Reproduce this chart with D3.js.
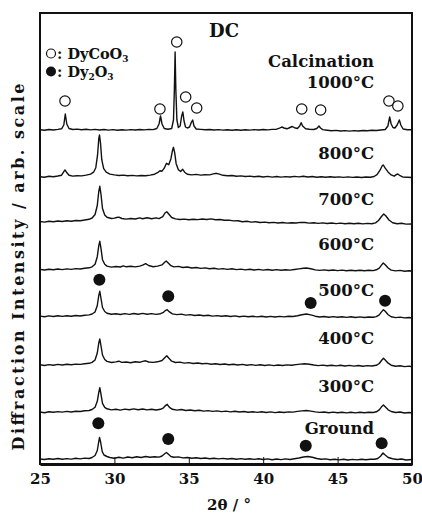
<!DOCTYPE html>
<html>
<head>
<meta charset="utf-8">
<script src="https://cdn.jsdelivr.net/npm/d3@7"></script>
<style>
  html, body { margin: 0; padding: 0; background: #fff; }
  svg { display: block; }
  text { font-family: "DejaVu Serif", "Liberation Serif", serif; font-weight: bold; fill: #111; }
</style>
</head>
<body>
<svg id="chart" width="422" height="514"></svg>
<script>
// ---------------- DATA ----------------
const xTicks = [25, 30, 35, 40, 45, 50];
const traceNames = ["Ground", "300\u00B0C", "400\u00B0C", "500\u00B0C", "600\u00B0C", "700\u00B0C", "800\u00B0C", "1000\u00B0C"];
// vertical offsets of each pattern (arb. units)
const traceOffsets = [4.5, 51.7, 99, 147.5, 194.3, 242.5, 287.3, 334];

const patGround = [[25.0,0.5],[25.3,0.0],[25.6,0.8],[25.9,0.2],[26.2,1.0],[26.5,0.3],[26.8,0.9],[27.1,0.4],[27.4,1.2],[27.7,0.6],[28.0,1.4],[28.3,1.0],[28.5,2.0],[28.7,4],[28.85,9],[28.95,18],[29.0,22],[29.08,17],[29.18,8],[29.3,4.5],[29.5,3],[29.7,2],[30.0,1.2],[30.3,2.2],[30.6,1.4],[30.9,2.5],[31.2,1.8],[31.5,2.8],[31.8,2.0],[32.1,3.0],[32.4,2.2],[32.7,2.8],[33.0,2.4],[33.2,3.5],[33.4,6],[33.5,7],[33.65,5],[33.8,3],[34.0,2.2],[34.3,2.6],[34.6,1.6],[34.9,2.0],[35.2,1.2],[35.5,1.8],[35.8,1.0],[36.1,1.5],[36.4,0.8],[36.7,1.3],[37.0,0.6],[37.3,1.1],[37.6,0.5],[37.9,1.0],[38.2,0.3],[38.5,0.9],[38.8,0.2],[39.1,0.8],[39.4,0.1],[39.7,0.7],[40.0,0.0],[40.3,0.6],[40.6,-0.2],[40.9,0.5],[41.2,-0.1],[41.5,0.6],[41.8,0.0],[42.1,0.8],[42.4,1.5],[42.7,2.5],[43.0,3.0],[43.3,2.2],[43.6,1.0],[43.9,0.2],[44.2,0.6],[44.5,-0.3],[44.8,0.3],[45.1,-0.4],[45.4,0.2],[45.7,-0.5],[46.0,0.1],[46.3,-0.4],[46.6,0.2],[46.9,-0.3],[47.2,0.3],[47.5,0.2],[47.7,1.0],[47.9,3.5],[48.05,6.5],[48.2,4.5],[48.4,2.0],[48.7,0.8],[49.0,0.0],[49.3,0.5],[49.6,-0.5],[50.0,0.0]];

const pat300 = [[25.0,0.3],[25.3,-0.4],[25.6,0.5],[25.9,0.0],[26.2,0.7],[26.5,0.2],[26.8,0.9],[27.1,0.3],[27.4,1.0],[27.7,0.8],[28.0,1.5],[28.3,1.8],[28.5,2.8],[28.7,5],[28.85,11],[28.95,20],[29.02,24.7],[29.1,18],[29.2,9],[29.35,5],[29.5,3.5],[29.8,2.4],[30.1,3.0],[30.4,2.2],[30.7,3.2],[31.0,2.5],[31.3,3.4],[31.6,2.6],[31.9,3.3],[32.2,2.4],[32.5,3.1],[32.8,2.3],[33.1,3.0],[33.3,4.5],[33.45,7],[33.55,8],[33.7,5],[33.9,3],[34.2,2.2],[34.5,2.8],[34.8,1.8],[35.1,2.3],[35.4,1.5],[35.7,2.0],[36.0,1.2],[36.3,1.7],[36.6,0.9],[36.9,1.4],[37.2,0.7],[37.5,1.2],[37.8,0.4],[38.1,1.0],[38.4,0.3],[38.7,0.8],[39.0,0.1],[39.3,0.6],[39.6,-0.1],[39.9,0.5],[40.2,-0.2],[40.5,0.4],[40.8,-0.3],[41.1,0.3],[41.4,-0.2],[41.7,0.4],[42.0,0.2],[42.3,0.9],[42.6,1.4],[42.9,1.8],[43.2,1.2],[43.5,0.4],[43.8,-0.1],[44.1,0.3],[44.4,-0.4],[44.7,0.2],[45.0,-0.5],[45.3,0.1],[45.6,-0.6],[45.9,0.0],[46.2,-0.6],[46.5,0.0],[46.8,-0.5],[47.1,0.1],[47.4,-0.2],[47.6,0.5],[47.8,2.5],[47.95,5.5],[48.08,7.3],[48.2,5.5],[48.4,2.5],[48.6,0.8],[48.9,-0.2],[49.2,0.3],[49.5,-0.7],[49.8,-0.2],[50.0,-0.7]];

const pat400 = [[25.0,0.2],[25.3,-0.5],[25.6,0.4],[25.9,-0.2],[26.2,0.6],[26.5,0.0],[26.8,0.7],[27.1,0.2],[27.4,0.9],[27.7,0.6],[28.0,1.3],[28.3,1.7],[28.5,2.6],[28.7,5],[28.85,12],[28.95,22],[29.02,26],[29.1,19],[29.2,10],[29.35,5.5],[29.5,3.6],[29.8,2.5],[30.1,3.1],[30.3,3.8],[30.5,2.6],[30.8,3.0],[31.1,2.3],[31.4,3.2],[31.7,2.7],[31.9,3.6],[32.1,4.2],[32.3,3.0],[32.6,2.6],[32.9,3.2],[33.2,4.5],[33.4,7.5],[33.52,9.3],[33.65,7],[33.85,3.8],[34.1,2.5],[34.4,2.9],[34.7,1.9],[35.0,2.4],[35.3,1.5],[35.6,2.0],[35.9,1.2],[36.2,1.6],[36.5,0.8],[36.8,1.3],[37.1,0.5],[37.4,1.0],[37.7,0.3],[38.0,0.8],[38.3,0.0],[38.6,0.6],[38.9,-0.2],[39.2,0.4],[39.5,-0.4],[39.8,0.2],[40.1,-0.5],[40.4,0.1],[40.7,-0.6],[41.0,0.0],[41.3,-0.5],[41.6,0.1],[41.9,-0.3],[42.2,0.4],[42.5,0.9],[42.8,1.3],[43.1,0.8],[43.4,0.0],[43.7,-0.6],[44.0,-0.1],[44.3,-0.8],[44.6,-0.2],[44.9,-0.9],[45.2,-0.3],[45.5,-1.0],[45.8,-0.4],[46.1,-1.1],[46.4,-0.5],[46.7,-1.2],[47.0,-0.6],[47.3,-1.0],[47.6,-0.3],[47.8,1.5],[47.95,4.5],[48.08,6.7],[48.2,5.0],[48.4,1.8],[48.6,-0.2],[48.9,-1.2],[49.2,-0.8],[49.5,-1.6],[49.8,-1.1],[50.0,-1.7]];

const pat500 = [[25.0,0.4],[25.3,-0.2],[25.6,0.6],[25.9,0.0],[26.2,0.8],[26.5,0.1],[26.8,0.7],[27.1,0.2],[27.4,1.0],[27.7,0.5],[28.0,1.2],[28.3,1.6],[28.5,2.5],[28.7,4.5],[28.85,11],[28.95,21],[29.02,25.2],[29.1,18],[29.2,9],[29.35,5],[29.5,3.3],[29.8,2.2],[30.1,2.8],[30.4,2.0],[30.7,2.9],[31.0,2.1],[31.3,3.0],[31.6,2.3],[31.9,3.1],[32.2,2.2],[32.5,2.9],[32.8,2.1],[33.1,2.8],[33.3,4.2],[33.45,6.2],[33.55,6.8],[33.7,4.6],[33.9,2.6],[34.2,1.9],[34.5,2.4],[34.8,1.4],[35.1,1.9],[35.4,1.0],[35.7,1.5],[36.0,0.7],[36.3,1.2],[36.6,0.4],[36.9,0.9],[37.2,0.2],[37.5,0.8],[37.8,0.0],[38.1,0.6],[38.4,-0.2],[38.7,0.4],[39.0,-0.3],[39.3,0.3],[39.6,-0.4],[39.9,0.2],[40.2,-0.5],[40.5,0.1],[40.8,-0.5],[41.1,0.1],[41.4,-0.4],[41.7,0.2],[42.0,0.0],[42.3,0.8],[42.6,1.8],[42.9,2.5],[43.2,1.6],[43.5,0.3],[43.8,-0.5],[44.1,0.0],[44.4,-0.7],[44.7,-0.1],[45.0,-0.8],[45.3,-0.2],[45.6,-0.9],[45.9,-0.3],[46.2,-1.0],[46.5,-0.4],[46.8,-1.0],[47.1,-0.5],[47.4,-0.8],[47.6,-0.1],[47.8,1.6],[47.95,4.6],[48.08,6.8],[48.2,5.2],[48.4,1.8],[48.6,-0.3],[48.9,-1.1],[49.2,-0.6],[49.5,-1.4],[49.8,-1.0],[50.0,-1.5]];

const pat600 = [[25.0,0.3],[25.3,-0.3],[25.6,0.5],[25.9,-0.1],[26.2,0.7],[26.5,0.1],[26.8,0.8],[27.1,0.3],[27.4,1.1],[27.7,0.7],[28.0,1.4],[28.3,1.9],[28.5,2.9],[28.7,5.5],[28.85,13],[28.95,24],[29.02,28.4],[29.1,21],[29.2,10],[29.35,5.5],[29.5,3.6],[29.8,2.6],[30.1,3.2],[30.4,2.7],[30.6,3.8],[30.8,2.9],[31.1,3.5],[31.4,2.8],[31.7,3.6],[31.9,4.5],[32.1,6.0],[32.3,4.2],[32.6,3.0],[32.9,3.6],[33.2,4.8],[33.38,7.5],[33.48,8.7],[33.6,7],[33.8,4],[34.0,2.8],[34.3,3.3],[34.6,2.2],[34.9,2.7],[35.2,1.7],[35.5,2.2],[35.8,1.3],[36.1,1.8],[36.4,0.9],[36.7,1.4],[37.0,0.6],[37.3,1.1],[37.6,0.3],[37.9,0.9],[38.2,0.1],[38.5,0.6],[38.8,-0.2],[39.1,0.4],[39.4,-0.3],[39.7,0.3],[40.0,-0.4],[40.3,0.2],[40.6,-0.5],[40.9,0.1],[41.2,-0.5],[41.5,0.0],[41.8,-0.4],[42.1,0.2],[42.4,0.8],[42.7,1.5],[42.9,1.7],[43.2,0.9],[43.5,-0.2],[43.8,-0.7],[44.1,-0.2],[44.4,-0.8],[44.7,-0.3],[45.0,-0.9],[45.3,-0.4],[45.6,-1.0],[45.9,-0.5],[46.2,-1.1],[46.5,-0.5],[46.8,-1.1],[47.1,-0.6],[47.4,-0.9],[47.6,-0.1],[47.8,1.6],[47.95,4.6],[48.07,6.7],[48.2,5.0],[48.4,1.7],[48.6,-0.4],[48.9,-1.2],[49.2,-0.7],[49.5,-1.5],[49.8,-1.0],[50.0,-1.3]];

const pat700 = [[25.0,0.0],[25.3,-0.6],[25.6,0.3],[25.9,-0.3],[26.2,0.5],[26.5,0.0],[26.8,0.8],[27.1,0.2],[27.4,1.0],[27.7,0.7],[28.0,1.5],[28.3,2.2],[28.5,3.5],[28.7,7],[28.85,16],[28.95,30],[29.02,35.2],[29.1,27],[29.2,13],[29.35,6.5],[29.5,4.2],[29.8,3.0],[30.0,3.4],[30.15,4.0],[30.3,4.4],[30.5,3.0],[30.8,2.4],[31.1,3.0],[31.4,2.5],[31.7,3.6],[31.9,2.8],[32.2,3.7],[32.5,2.7],[32.8,3.6],[33.0,2.9],[33.25,4.8],[33.4,8.5],[33.52,9.8],[33.65,7.5],[33.85,4],[34.1,2.6],[34.4,2.0],[34.7,2.4],[35.0,1.8],[35.3,2.3],[35.6,1.9],[35.9,2.5],[36.2,2.0],[36.5,2.6],[36.8,1.7],[37.1,2.0],[37.4,1.2],[37.7,1.4],[38.0,0.6],[38.3,0.8],[38.6,-0.2],[38.9,0.2],[39.2,-0.6],[39.5,-0.3],[39.8,-1.0],[40.1,-0.6],[40.4,-1.3],[40.7,-0.9],[41.0,-1.5],[41.3,-1.0],[41.6,-1.6],[41.9,-1.2],[42.2,-1.5],[42.5,-0.9],[42.8,-1.0],[43.1,-1.6],[43.4,-1.2],[43.7,-1.9],[44.0,-1.4],[44.3,-2.0],[44.6,-1.5],[44.9,-2.1],[45.2,-1.6],[45.5,-2.2],[45.8,-1.7],[46.1,-2.3],[46.4,-1.8],[46.7,-2.4],[47.0,-1.9],[47.3,-2.2],[47.55,-1.4],[47.75,1.0],[47.95,5.0],[48.1,7.5],[48.25,5.5],[48.45,1.5],[48.7,-1.2],[49.0,-2.2],[49.3,-1.8],[49.6,-2.6],[50.0,-2.5]];

const pat800 = [[25.0,0.0],[25.3,-0.5],[25.6,0.4],[25.9,0.0],[26.2,0.7],[26.45,1.5],[26.6,5],[26.68,6.7],[26.78,4.5],[26.95,1.5],[27.2,0.6],[27.5,1.0],[27.8,0.8],[28.1,1.6],[28.4,2.6],[28.6,4.5],[28.75,9],[28.87,22],[28.95,38],[29.0,41.7],[29.07,33],[29.15,17],[29.28,8],[29.45,4.5],[29.7,2.6],[30.0,1.8],[30.3,1.2],[30.6,1.6],[30.9,0.9],[31.2,1.3],[31.5,0.8],[31.8,1.2],[32.1,1.0],[32.4,1.6],[32.7,2.5],[32.9,4.0],[33.06,6],[33.2,5.5],[33.35,8.5],[33.5,13.4],[33.65,12],[33.8,18],[33.9,26],[33.97,29.4],[34.05,24],[34.15,13],[34.3,7],[34.45,5.2],[34.59,7.4],[34.72,4.5],[34.9,2.5],[35.2,1.8],[35.5,2.3],[35.8,1.6],[36.1,2.0],[36.4,1.8],[36.65,2.8],[36.85,3.4],[37.05,2.5],[37.3,1.4],[37.6,1.0],[37.9,1.2],[38.2,0.5],[38.5,0.8],[38.8,0.2],[39.1,0.6],[39.4,-0.1],[39.7,0.4],[40.0,-0.3],[40.3,0.3],[40.6,-0.4],[40.9,0.2],[41.2,-0.4],[41.5,0.1],[41.8,-0.3],[42.1,0.3],[42.4,-0.2],[42.7,0.4],[43.0,-0.3],[43.3,0.2],[43.6,-0.5],[43.9,0.0],[44.2,-0.6],[44.5,-0.1],[44.8,-0.6],[45.1,-0.2],[45.4,-0.7],[45.7,-0.2],[46.0,-0.7],[46.3,-0.3],[46.6,-0.8],[46.9,-0.3],[47.2,-0.6],[47.45,0.2],[47.65,2.0],[47.85,6.5],[48.0,11.0],[48.07,11.7],[48.2,8.5],[48.4,4.5],[48.6,1.8],[48.8,0.5],[48.95,2.0],[49.05,2.7],[49.2,1.0],[49.4,-0.4],[49.7,-0.6],[50.0,-0.8]];

const pat1000 = [[25.0,0.2],[25.3,-0.3],[25.6,0.5],[25.9,0.0],[26.2,0.6],[26.45,1.2],[26.6,5],[26.7,16],[26.8,6],[26.95,1.5],[27.2,0.5],[27.5,0.9],[27.8,0.2],[28.1,0.7],[28.4,0.1],[28.7,0.6],[29.0,0.0],[29.3,0.5],[29.6,-0.1],[29.9,0.4],[30.2,-0.2],[30.5,0.3],[30.8,-0.1],[31.1,0.4],[31.4,0.0],[31.7,0.5],[32.0,0.1],[32.3,0.6],[32.6,0.4],[32.85,1.5],[33.0,6],[33.1,14],[33.2,6],[33.35,1.5],[33.6,0.8],[33.85,1.5],[33.97,10],[34.03,40],[34.08,78],[34.13,40],[34.2,10],[34.3,2.5],[34.42,4],[34.52,14],[34.6,18],[34.68,9],[34.78,3],[34.9,2],[35.05,3],[35.18,8],[35.26,10],[35.35,4],[35.5,1.0],[35.8,0.6],[36.1,0.2],[36.4,0.5],[36.7,0.0],[37.0,0.4],[37.3,-0.1],[37.6,0.3],[37.9,-0.2],[38.2,0.3],[38.5,-0.2],[38.8,0.3],[39.1,-0.1],[39.4,0.4],[39.7,0.0],[40.0,0.5],[40.3,0.1],[40.6,0.6],[40.9,0.8],[41.1,1.8],[41.25,3.0],[41.4,2.0],[41.6,1.2],[41.8,2.5],[41.95,3.5],[42.1,2.3],[42.3,1.5],[42.45,4],[42.55,7.3],[42.65,4],[42.85,1.2],[43.1,0.8],[43.4,0.5],[43.6,1.5],[43.75,4],[43.85,2],[44.0,0.4],[44.3,-0.2],[44.6,-0.8],[44.9,-0.4],[45.2,-1.0],[45.5,-0.6],[45.8,-1.1],[46.1,-0.6],[46.4,-1.0],[46.7,-0.5],[47.0,-0.8],[47.3,-0.3],[47.6,-0.5],[47.9,0.0],[48.2,0.5],[48.38,4],[48.5,13],[48.6,6],[48.72,2.5],[48.85,2],[49.0,5],[49.15,10],[49.25,5],[49.4,1.0],[49.7,0.2],[50.0,0.3]];

const patterns = [patGround, pat300, pat400, pat500, pat600, pat700, pat800, pat1000];

// phase markers: [2theta, intensity]
const dyCoO3Marks = [[26.68,363],[33.06,355],[34.19,422],[34.79,367],[35.53,356],[42.59,355],[43.86,354],[48.45,363],[49.05,358]];
const dy2O3Marks = [[28.99,184.3],[33.62,167.7],[43.19,161],[48.19,163.3],
                    [28.92,40.7],[33.62,25],[42.86,18.3],[47.96,20.7]];

// ---------------- LAYOUT ----------------
const svg = d3.select("#chart");
const x = d3.scaleLinear().domain([25, 50]).range([40, 412]);
const y = d3.scaleLinear().domain([0, 451]).range([464, 13]);

// traces
const line = d3.line().x(d => x(d[0])).y(d => y(d[1]));
patterns.forEach((p, i) => {
  const off = traceOffsets[i];
  svg.append("path")
    .datum(p.map(d => [d[0], d[1] + off]))
    .attr("d", line)
    .attr("fill", "none")
    .attr("stroke", "#111")
    .attr("stroke-width", 1.4)
    .attr("stroke-linejoin", "round");
});

// trace labels
const labelLift = [26, 20.6, 20.7, 20.2, 20, 16.5, 17.4, 41.7];
const labelX = 47.45;
traceNames.forEach((name, i) => {
  svg.append("text")
    .attr("x", x(labelX))
    .attr("y", y(traceOffsets[i] + labelLift[i]))
    .attr("text-anchor", "end")
    .style("font-size", "16.5px")
    .text(name);
});
svg.append("text")
  .attr("x", x(labelX))
  .attr("y", y(397.3))
  .attr("text-anchor", "end")
  .style("font-size", "16.5px")
  .text("Calcination");

// markers
svg.selectAll("circle.open").data(dyCoO3Marks).enter().append("circle")
  .attr("class", "open")
  .attr("cx", d => x(d[0])).attr("cy", d => y(d[1])).attr("r", 5.2)
  .attr("fill", "#fff").attr("stroke", "#111").attr("stroke-width", 1.2);
svg.selectAll("circle.filled").data(dy2O3Marks).enter().append("circle")
  .attr("class", "filled")
  .attr("cx", d => x(d[0])).attr("cy", d => y(d[1])).attr("r", 6)
  .attr("fill", "#111");

// frame
svg.append("rect")
  .attr("x", x(25)).attr("y", y(451))
  .attr("width", x(50) - x(25)).attr("height", y(0) - y(451))
  .attr("fill", "none").attr("stroke", "#111").attr("stroke-width", 2);

// x axis
const xAxis = d3.axisBottom(x).tickValues(xTicks).tickSizeInner(-7).tickSizeOuter(0).tickPadding(9)
  .tickFormat(d3.format("d"));
const gx = svg.append("g").attr("transform", `translate(0,${y(0)})`).call(xAxis);
gx.select(".domain").attr("stroke", "#111").attr("stroke-width", 3);
gx.selectAll(".tick line").attr("stroke", "#111").attr("stroke-width", 1);
gx.selectAll(".tick text").style("font-size", "15px").style("font-family", "'DejaVu Serif', serif").style("font-weight", "bold").attr("fill", "#111");

svg.append("text")
  .attr("x", 229).attr("y", 510)
  .attr("text-anchor", "middle")
  .style("font-size", "15px")
  .attr("xml:space", "preserve")
  .text("2\u03B8 / \u00B0");

// y title
svg.append("text")
  .attr("transform", "translate(24,267) rotate(-90)")
  .attr("text-anchor", "middle")
  .style("font-size", "16px")
  .attr("textLength", 367)
  .attr("lengthAdjust", "spacing")
  .text("Diffraction Intensity / arb. scale");

// title
svg.append("text")
  .attr("x", 224).attr("y", 37)
  .attr("text-anchor", "middle")
  .style("font-size", "18px")
  .text("DC");

// legend
svg.append("circle").attr("cx", 51).attr("cy", 53.5).attr("r", 4.5)
  .attr("fill", "#fff").attr("stroke", "#111").attr("stroke-width", 1.2);
svg.append("circle").attr("cx", 51).attr("cy", 71.5).attr("r", 5).attr("fill", "#111");
const l1 = svg.append("text").attr("x", 57).attr("y", 58.5).style("font-size", "14.5px");
l1.append("tspan").text(": DyCoO");
l1.append("tspan").attr("dy", 3).style("font-size", "9px").text("3");
const l2 = svg.append("text").attr("x", 57).attr("y", 77).style("font-size", "14.5px");
l2.append("tspan").text(": Dy");
l2.append("tspan").attr("dy", 3).style("font-size", "9px").text("2");
l2.append("tspan").attr("dy", -3).text("O");
l2.append("tspan").attr("dy", 3).style("font-size", "9px").text("3");
</script>
</body>
</html>
